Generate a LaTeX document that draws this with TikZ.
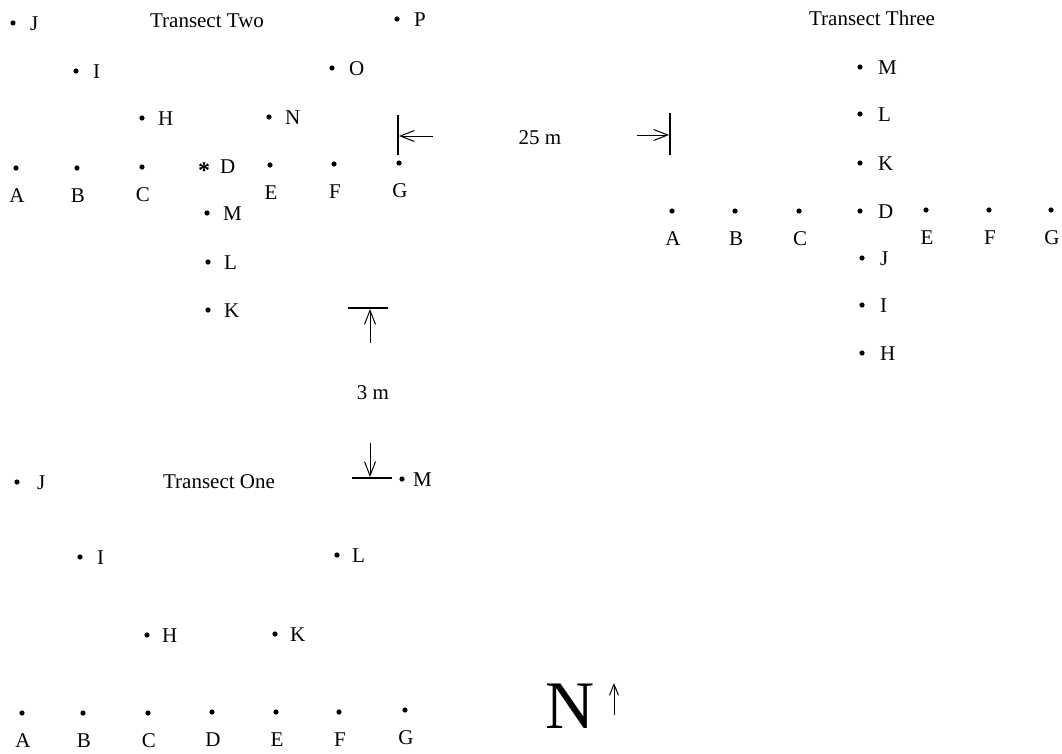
\documentclass[tikz,border=0pt]{standalone}
\usepackage{fontspec}
\setmainfont{Liberation Serif}
\usetikzlibrary{arrows.meta}
\newcommand\rpt[5]{\node[pt] (#1) at (#2,#3) {};\node[lbl,anchor=base west] (#1l) at ([xshift=#5pt,yshift=-7pt]#1.center) {#4};}
\newcommand\bpt[4]{\node[pt] (#1) at (#2,#3) {};\node[lbl,anchor=base] (#1l) at ([xshift=1pt,yshift=-34pt]#1.center) {#4};}
\begin{document}
\begin{tikzpicture}[x=1pt,y=-1pt,
  pt/.style={circle,fill=black,inner sep=0pt,minimum size=5.2pt},
  lbl/.style={inner sep=0pt,font=\fontsize{21}{25}\selectfont},
  ttl/.style={inner sep=0pt,font=\fontsize{21}{25}\selectfont},
  bar/.style={line width=1.1pt},
  dim/.style={line width=1pt,-{Straight Barb[length=14pt,width=11pt,line width=1pt]}}]
\useasboundingbox (0,0) rectangle (1062,753);
% ---------- Transect Two ----------
\node[ttl] (t2title) at (207,21) {Transect Two};
\rpt{t2J}{13}{23}{J}{17}
\rpt{t2P}{397}{19}{P}{17}
\rpt{t2I}{76}{71}{I}{17}
\rpt{t2O}{332}{68}{O}{17}
\rpt{t2H}{142}{118}{H}{16}
\rpt{t2N}{269}{117}{N}{16}
\bpt{t2A}{16}{168}{A}
\bpt{t2B}{77}{168}{B}
\bpt{t2C}{142}{167}{C}
\node[inner sep=0pt,anchor=base,font=\fontsize{24}{28}\selectfont\bfseries] (t2D) at (204,178) {*};
\node[lbl,anchor=base west] (t2Dl) at (220,173) {D};
\bpt{t2E}{270}{165}{E}
\bpt{t2F}{334}{164}{F}
\bpt{t2G}{399}{163}{G}
\rpt{t2M}{207}{213}{M}{16}
\rpt{t2L}{208}{262}{L}{16}
\rpt{t2K}{208}{310}{K}{16}
% ---------- 25 m dimension ----------
\coordinate (b1t) at (398,115);
\coordinate (b1b) at (398,155);
\coordinate (b2t) at (670,113);
\coordinate (b2b) at (670,155);
\draw[bar] (b1t) -- (b1b);
\draw[bar] (b2t) -- (b2b);
\coordinate (a1s) at (433,136);
\coordinate (a1e) at (399,136);
\coordinate (a2s) at (637,135);
\coordinate (a2e) at (669,135);
\draw[dim] (a1s) -- (a1e);
\draw[dim] (a2s) -- (a2e);
\node[lbl] (d25) at (540,138) {25 m};
% ---------- Transect Three ----------
\node[ttl] (t3title) at (872,18) {Transect Three};
\rpt{t3M}{860}{67}{M}{18}
\rpt{t3L}{860}{114}{L}{18}
\rpt{t3K}{860}{163}{K}{18}
\rpt{t3D}{860}{211}{D}{18}
\rpt{t3J}{862}{258}{J}{18}
\rpt{t3I}{862}{305}{I}{18}
\rpt{t3H}{862}{353}{H}{18}
\bpt{t3A}{672}{211}{A}
\bpt{t3B}{735}{211}{B}
\bpt{t3C}{799}{211}{C}
\bpt{t3E}{926}{210}{E}
\bpt{t3F}{989}{210}{F}
\bpt{t3G}{1051}{210}{G}
% ---------- 3 m dimension ----------
\coordinate (c1l) at (348,308);
\coordinate (c1r) at (388,308);
\coordinate (c2l) at (352,478);
\coordinate (c2r) at (392,478);
\draw[bar] (c1l) -- (c1r);
\draw[bar] (c2l) -- (c2r);
\coordinate (u1s) at (370,343);
\coordinate (u1e) at (370,309);
\coordinate (u2s) at (370,443);
\coordinate (u2e) at (370,477);
\draw[dim] (u1s) -- (u1e);
\draw[dim] (u2s) -- (u2e);
\node[lbl] (d3) at (373,393) {3 m};
% ---------- Transect One ----------
\node[ttl] (t1title) at (219,482) {Transect One};
\rpt{t1J}{17}{482}{J}{20}
\rpt{t1M}{402}{479}{M}{11}
\rpt{t1I}{80}{557}{I}{17}
\rpt{t1L}{337}{555}{L}{15}
\rpt{t1H}{147}{635}{H}{15}
\rpt{t1K}{275}{634}{K}{15}
\bpt{t1A}{22}{713}{A}
\bpt{t1B}{83}{713}{B}
\bpt{t1C}{148}{713}{C}
\bpt{t1D}{212}{712}{D}
\bpt{t1E}{276}{712}{E}
\bpt{t1F}{339}{712}{F}
\bpt{t1G}{405}{710}{G}
% ---------- North ----------
\node[inner sep=0pt,font=\fontsize{68}{72}\selectfont,anchor=base] (north) at (570,728) {N};
\coordinate (ns) at (614,715);
\coordinate (ne) at (614,683);
\draw[line width=1pt,-{Straight Barb[length=11pt,width=9pt,line width=1pt]}] (ns) -- (ne);
\end{tikzpicture}
\end{document}
